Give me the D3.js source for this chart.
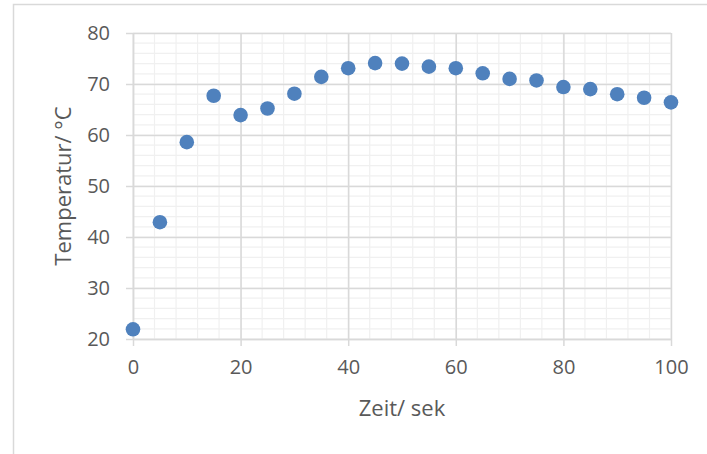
<!DOCTYPE html>
<html>
<head>
<meta charset="utf-8">
<script src="https://cdnjs.cloudflare.com/ajax/libs/d3/7.8.5/d3.min.js"></script>
<style>
  body { margin: 0; background: #fff; }
  .chart text { font-family: "Open Sans", sans-serif; fill: #595959; }
</style>
</head>
<body>
<div class="chart"></div>
<script>
// Temperatur ueber Zeit, Streudiagramm

var zeit = [0, 5, 10, 15, 20, 25, 30, 35, 40, 45, 50, 55, 60, 65, 70, 75, 80, 85, 90, 95, 100];
var temperatur = [21.9, 42.9, 58.6, 67.7, 63.9, 65.2, 68.1, 71.4, 73.1, 74.1, 74.0, 73.4, 73.1, 72.1, 71.0, 70.7, 69.4, 69.0, 68.0, 67.3, 66.4];
var xTicks = [0, 20, 40, 60, 80, 100];
var yTicks = [20, 30, 40, 50, 60, 70, 80];

var margin = {top: 33, right: 36, bottom: 115, left: 133},
    width  = 707 - margin.left - margin.right,
    height = 454 - margin.top - margin.bottom;

var root = d3.select(".chart").append("svg")
    .attr("width", 707)
    .attr("height", 454);

// Rahmen um das Diagramm
root.append("rect")
    .attr("x", 13.5)
    .attr("y", 4.5)
    .attr("width", 900)
    .attr("height", 600)
    .attr("fill", "none")
    .attr("stroke", "#d9d9d9")
    .attr("stroke-width", 1.5);

var svg = root.append("g")
    .attr("transform", "translate(" + margin.left + "," + margin.top + ")");

var x = d3.scaleLinear().domain([0, 100]).range([0, width]);
var y = d3.scaleLinear().domain([20, 80]).range([height, 0]);

// Hilfsgitter
svg.append("g")
    .selectAll("line")
    .data(d3.range(0, 101, 4))
    .enter().append("line")
    .attr("x1", function(d) { return x(d); })
    .attr("x2", function(d) { return x(d); })
    .attr("y1", 0).attr("y2", height)
    .attr("stroke", "#f0f0f0")
    .attr("stroke-width", 1.2);

svg.append("g")
    .selectAll("line")
    .data(d3.range(20, 81, 2))
    .enter().append("line")
    .attr("x1", 0).attr("x2", width)
    .attr("y1", function(d) { return y(d); })
    .attr("y2", function(d) { return y(d); })
    .attr("stroke", "#f0f0f0")
    .attr("stroke-width", 1.2);

// Hauptgitter
svg.append("g")
    .call(d3.axisLeft(y).tickValues(yTicks).tickSize(-width).tickFormat(""))
    .call(function(g) { g.select(".domain").remove(); })
    .selectAll("line")
    .attr("stroke", "#d9d9d9")
    .attr("stroke-width", 1.5);

svg.append("g")
    .attr("transform", "translate(0," + height + ")")
    .call(d3.axisBottom(x).tickValues(xTicks).tickSize(height).tickSizeOuter(0).tickFormat(""))
    .call(function(g) { g.select(".domain").remove(); })
    .selectAll("line")
    .attr("transform", "translate(0," + (-height) + ")")
    .attr("stroke", "#d9d9d9")
    .attr("stroke-width", 1.5);

// Achsen
var yAxis = svg.append("g")
    .call(d3.axisLeft(y).tickValues(yTicks).tickSize(7).tickSizeOuter(0).tickPadding(16));
yAxis.select(".domain").attr("stroke", "#d9d9d9").attr("stroke-width", 1.5);
yAxis.selectAll(".tick line").attr("stroke", "#d9d9d9").attr("stroke-width", 1.5);
yAxis.selectAll("text").attr("font-size", "20px").attr("fill", "#595959");

var xAxis = svg.append("g")
    .attr("transform", "translate(0," + height + ")")
    .call(d3.axisBottom(x).tickValues(xTicks).tickSize(7).tickSizeOuter(0).tickPadding(14));
xAxis.select(".domain").attr("stroke", "#d9d9d9").attr("stroke-width", 1.5);
xAxis.selectAll(".tick line").attr("stroke", "#d9d9d9").attr("stroke-width", 1.5);
xAxis.selectAll("text").attr("font-size", "20px").attr("fill", "#595959");

// Achsentitel
svg.append("text")
    .attr("x", width / 2)
    .attr("y", 416 - margin.top)
    .attr("text-anchor", "middle")
    .attr("font-size", "22px")
    .text("Zeit/ sek");

svg.append("text")
    .attr("transform", "translate(" + (71 - margin.left) + "," + (height / 2) + ") rotate(-90)")
    .attr("text-anchor", "middle")
    .attr("font-size", "22px")
    .text("Temperatur/ °C");

// Messpunkte
svg.selectAll(".punkt")
    .data(zeit)
    .enter()
    .append("circle")
    .attr("class", "punkt")
    .attr("cx", function(d) { return x(d); })
    .attr("cy", function(d, i) { return y(temperatur[i]); })
    .attr("r", 7.3)
    .attr("fill", "#4f81bd");
</script>
</body>
</html>
